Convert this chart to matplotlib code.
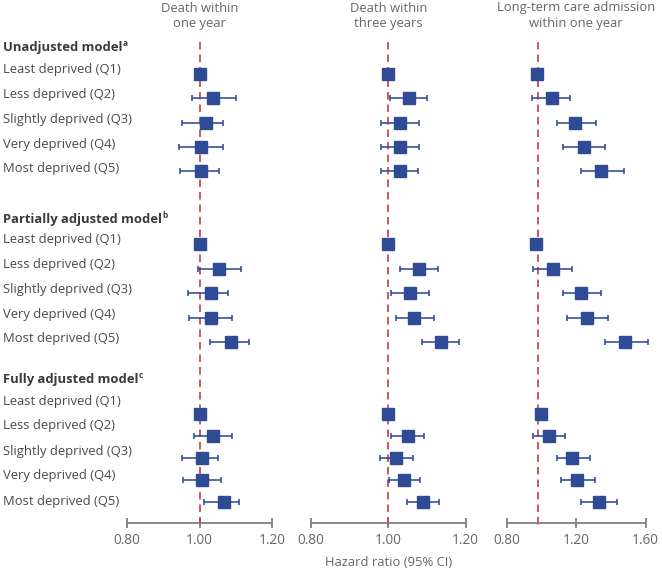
import numpy as np
import matplotlib
matplotlib.use("Agg")
import matplotlib.pyplot as plt

plt.rcParams['font.family'] = ['Open Sans', 'DejaVu Sans']

# --- data (hazard ratios) ---
models = ["Unadjusted model", "Partially adjusted model", "Fully adjusted model"]
model_notes = ["a", "b", "c"]
quintiles = ["Least deprived (Q1)", "Less deprived (Q2)", "Slightly deprived (Q3)",
             "Very deprived (Q4)", "Most deprived (Q5)"]
outcomes = ["Death within\none year", "Death within\nthree years",
            "Long-term care admission\nwithin one year"]

nan = np.nan
death1y_hr = [1.00, 1.038, 1.017, 1.005, 1.005, 1.00, 1.054, 1.032, 1.032, 1.088, 1.00, 1.036, 1.008, 1.008, 1.067]
death1y_lo = [nan, 0.979, 0.951, 0.944, 0.946, nan, 0.996, 0.967, 0.971, 1.029, nan, 0.984, 0.951, 0.954, 1.013]
death1y_hi = [nan, 1.100, 1.065, 1.065, 1.054, nan, 1.114, 1.079, 1.090, 1.136, nan, 1.090, 1.051, 1.060, 1.110]

death3y_hr = [1.00, 1.053, 1.030, 1.030, 1.030, 1.00, 1.079, 1.056, 1.067, 1.136, 1.00, 1.050, 1.020, 1.040, 1.089]
death3y_lo = [nan, 1.005, 0.982, 0.982, 0.982, nan, 1.031, 1.007, 1.020, 1.087, nan, 1.007, 0.979, 1.003, 1.048]
death3y_hi = [nan, 1.101, 1.079, 1.079, 1.078, nan, 1.128, 1.105, 1.118, 1.184, nan, 1.093, 1.063, 1.083, 1.131]

ltc_hr = [0.975, 1.061, 1.195, 1.243, 1.341, 0.97, 1.068, 1.228, 1.264, 1.483, 1.00, 1.045, 1.178, 1.206, 1.329]
ltc_lo = [nan, 0.947, 1.091, 1.126, 1.226, nan, 0.953, 1.122, 1.147, 1.367, nan, 0.951, 1.090, 1.112, 1.229]
ltc_hi = [nan, 1.166, 1.316, 1.364, 1.473, nan, 1.174, 1.343, 1.381, 1.613, nan, 1.137, 1.278, 1.306, 1.433]

x_ticks = [[0.8, 1.0, 1.2], [0.8, 1.0, 1.2], [0.8, 1.2, 1.6]]
x_ticklabels = [["0.80", "1.00", "1.20"], ["0.80", "1.00", "1.20"], ["0.80", "1.20", "1.60"]]
null_line = [1.0, 1.0, 0.98]

# --- layout (pixel units, figure is 662 x 572) ---
W, H = 662, 572
panel_px = [(127, 145), (310.7, 155), (506.7, 139)]   # left edge, width
header_y = [48, 220, 380]
label_top = [70, 240, 401]
label_step = [24.7, 24.7, 25.0]
mark_top = [74, 244, 414]
mark_step = [24.3, 24.5, 22.0]
axis_y = 523
FS = 9.4

BLUE = "#2f4b96"
RED = "#c43c45"
GREY = "#808080"
TXT = "#4a4a4a"

fig = plt.figure(figsize=(W / 100, H / 100), dpi=100)

series = [(death1y_hr, death1y_lo, death1y_hi),
          (death3y_hr, death3y_lo, death3y_hi),
          (ltc_hr, ltc_lo, ltc_hi)]

ypos = []
for b in range(len(models)):
    for i in range(len(quintiles)):
        ypos.append(mark_top[b] + i * mark_step[b])
ypos = np.array(ypos)

for p, (hr, lo, hi) in enumerate(series):
    left, width = panel_px[p]
    ax = fig.add_axes([left / W, 0, width / W, 1])
    ax.set_xlim(x_ticks[p][0], x_ticks[p][-1])
    ax.set_ylim(H, 0)
    ax.patch.set_visible(False)

    hr = np.array(hr); lo = np.array(lo); hi = np.array(hi)
    has_ci = ~np.isnan(lo)
    ax.errorbar(hr[has_ci], ypos[has_ci],
                xerr=[hr[has_ci] - lo[has_ci], hi[has_ci] - hr[has_ci]],
                fmt='none', ecolor=BLUE, elinewidth=1.15, capsize=2.2, capthick=1.15,
                clip_on=False, zorder=3)
    ax.plot(hr, ypos, 's', ms=8.8, color=BLUE, mec=BLUE, clip_on=False, zorder=4)

    ax.plot([null_line[p]] * 2, [42, axis_y + 4], color=RED, lw=1.2,
            dashes=(4.5, 3.0), zorder=2, clip_on=False)

    for s in ['top', 'left', 'right']:
        ax.spines[s].set_visible(False)
    ax.spines['bottom'].set_position(('data', axis_y))
    ax.spines['bottom'].set_bounds(x_ticks[p][0], x_ticks[p][-1])
    ax.spines['bottom'].set_color(GREY)
    ax.spines['bottom'].set_linewidth(1.3)
    ax.set_yticks([])
    ax.set_xticks(x_ticks[p])
    ax.set_xticklabels(x_ticklabels[p])
    ax.tick_params(axis='x', direction='inout', length=7, width=1.3, color=GREY,
                   labelsize=FS + 0.4, labelcolor="#666666", pad=4)

    cx = (left + width / 2) / W
    fig.text(cx, 1 - 1.5 / H, outcomes[p], ha='center', va='top', fontsize=FS,
             color="#666666", linespacing=1.25)

fig.text((310.7 + 155 / 2) / W, 1 - 563 / H, "Hazard ratio (95% CI)", ha='center',
         va='center', fontsize=FS, color="#666666")

renderer = fig.canvas.get_renderer()
for b, m in enumerate(models):
    t = fig.text(3 / W, 1 - header_y[b] / H, m, ha='left', va='center', fontsize=FS,
                 fontweight='bold', color="#3a3a3a")
    bb = t.get_window_extent(renderer)
    fig.text((bb.x1 + 0.5) / W, 1 - (header_y[b] - 4) / H, model_notes[b], ha='left',
             va='center', fontsize=6, fontweight='bold', color="#3a3a3a")
    for i, q in enumerate(quintiles):
        fig.text(3 / W, 1 - (label_top[b] + i * label_step[b]) / H, q, ha='left',
                 va='center', fontsize=FS, color=TXT)

fig.savefig("out.png", dpi=100)
